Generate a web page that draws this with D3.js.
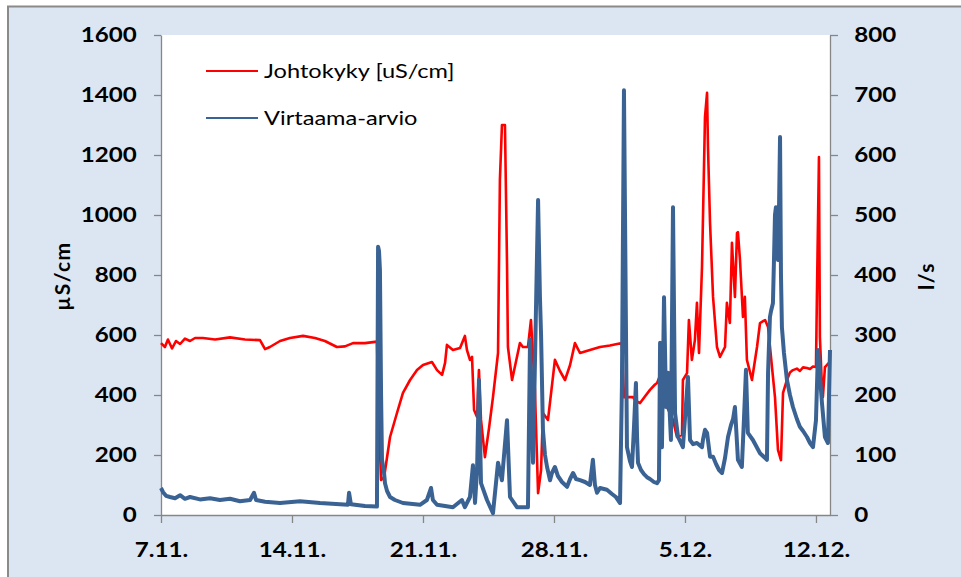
<!DOCTYPE html>
<html>
<head>
<meta charset="utf-8">
<script src="https://cdn.jsdelivr.net/npm/d3@7"></script>
<style>
  body { margin: 0; background: #fff; }
  svg text { font-family: Lato, "Open Sans", sans-serif; fill: #000; }
</style>
</head>
<body>
<svg id="chart" width="961" height="577"></svg>
<script>
// series: [days since 7.11., value]
const conductivity = [
  [0, 573], [0.21, 560], [0.37, 585], [0.59, 555], [0.80, 580], [1.02, 570], [1.28, 588], [1.55, 580],
  [1.82, 590], [2.24, 590], [2.89, 585], [3.69, 592], [4.49, 585], [5.29, 583], [5.56, 553], [5.82, 560],
  [6.36, 580], [6.89, 590], [7.59, 597], [8.23, 590], [8.76, 580], [9.40, 560], [9.83, 562], [10.26, 573],
  [10.90, 573], [11.54, 578], [11.65, 300], [11.76, 117], [11.92, 125], [12.24, 260], [12.61, 340],
  [12.93, 407], [13.31, 450], [13.68, 483], [14.00, 500], [14.48, 510], [14.75, 483], [15.02, 467],
  [15.18, 507], [15.28, 567], [15.60, 550], [15.98, 557], [16.24, 597], [16.35, 550], [16.51, 517],
  [16.62, 527], [16.73, 350], [16.89, 327], [16.99, 483], [17.10, 317], [17.31, 193], [17.53, 290],
  [17.74, 393], [18.01, 540], [18.11, 1117], [18.22, 1300], [18.38, 1300], [18.49, 840], [18.54, 560],
  [18.76, 450], [19.18, 573], [19.34, 560], [19.61, 560], [19.77, 650], [19.98, 417], [20.15, 73],
  [20.31, 150], [20.41, 340], [20.68, 317], [21.05, 517], [21.32, 480], [21.59, 450], [21.86, 500],
  [22.12, 573], [22.39, 540], [22.92, 550], [23.46, 560], [23.99, 565], [24.63, 573], [24.74, 393],
  [24.95, 393], [25.22, 393], [25.38, 380], [25.60, 373], [25.86, 395], [26.13, 417], [26.40, 435],
  [26.51, 440], [26.72, 473], [26.83, 477], [27.04, 360],
  [27.36, 317], [27.57, 260], [27.84, 267], [27.89, 450], [28.11, 473], [28.21, 650], [28.37, 517],
  [28.53, 583], [28.64, 707], [28.75, 540], [28.91, 827], [29.07, 1327], [29.18, 1407], [29.23, 1227],
  [29.34, 973], [29.50, 727], [29.71, 560], [29.87, 527], [30.14, 560], [30.24, 707], [30.40, 640],
  [30.51, 907], [30.67, 727], [30.78, 940], [30.83, 943], [30.94, 850], [31.10, 660], [31.20, 727],
  [31.31, 517], [31.58, 450], [31.85, 560], [32.01, 640], [32.28, 650], [32.44, 627], [32.65, 493],
  [32.81, 393], [32.97, 217], [33.13, 183], [33.24, 407], [33.45, 450], [33.61, 475], [33.77, 483],
  [33.98, 488], [34.14, 480], [34.31, 492], [34.52, 490], [34.68, 487], [34.84, 495],
  [35.00, 493], [35.05, 727], [35.16, 1193], [35.21, 593], [35.32, 427], [35.37, 393], [35.48, 493],
  [35.69, 507]
];

const flow = [
  [0, 45], [0.11, 38], [0.27, 32], [0.48, 30], [0.75, 28], [1.02, 33], [1.28, 27], [1.55, 30],
  [2.08, 26], [2.62, 28], [3.15, 25], [3.69, 27], [4.22, 23], [4.76, 25], [4.97, 37], [5.08, 25],
  [5.56, 22], [6.36, 20], [7.43, 23], [8.50, 20], [9.56, 18], [9.99, 17], [10.05, 37], [10.15, 18],
  [10.90, 15], [11.54, 14], [11.60, 447], [11.65, 440], [11.70, 408], [11.76, 200], [11.81, 92],
  [11.92, 70], [11.97, 53], [12.08, 40], [12.24, 30], [12.50, 25], [12.93, 20], [13.84, 17],
  [14.21, 25], [14.43, 45], [14.53, 25], [14.75, 17],
  [15.60, 13], [16.08, 25], [16.24, 13], [16.51, 30], [16.67, 83], [16.78, 20], [16.89, 75],
  [16.99, 225], [17.10, 53], [17.42, 25], [17.74, 3], [18.01, 87], [18.22, 58], [18.49, 158],
  [18.65, 30], [19.02, 13], [19.61, 13], [19.72, 292], [19.88, 87], [20.15, 525], [20.25, 363],
  [20.31, 300], [20.41, 142], [20.52, 100], [20.63, 80], [20.79, 58], [20.89, 70], [21.05, 80],
  [21.21, 65], [21.43, 55], [21.70, 47], [21.86, 60], [22.02, 70], [22.18, 60], [22.39, 58],
  [22.66, 55], [22.92, 50], [23.08, 92], [23.19, 50], [23.30, 37], [23.46, 45], [23.83, 42],
  [24.10, 35], [24.31, 30], [24.53, 20], [24.63, 213], [24.74, 708], [24.90, 113], [25.06, 90],
  [25.17, 80], [25.28, 150], [25.38, 220], [25.44, 130], [25.49, 87], [25.65, 75], [25.81, 68],
  [25.97, 63], [26.13, 60], [26.34, 55], [26.51, 53], [26.61, 58], [26.67, 287], [26.77, 113],
  [26.88, 363], [26.99, 180], [27.09, 237], [27.25, 125], [27.36, 513], [27.47, 170], [27.63, 130],
  [27.89, 113], [28.16, 230], [28.27, 125], [28.43, 118], [28.64, 120], [28.91, 113], [28.96, 125],
  [29.07, 142], [29.18, 137], [29.34, 97], [29.50, 97], [29.66, 85], [29.82, 75], [29.98, 70],
  [30.14, 95], [30.30, 130], [30.46, 150], [30.57, 160], [30.67, 180], [30.78, 120], [30.83, 92],
  [31.04, 80], [31.15, 158], [31.26, 242], [31.36, 137],
  [31.63, 125], [32.01, 103], [32.38, 92], [32.44, 237], [32.54, 330], [32.60, 340], [32.70, 353],
  [32.76, 430], [32.81, 500], [32.86, 513], [32.92, 480], [32.97, 425], [33.02, 500], [33.08, 630],
  [33.13, 400], [33.18, 313], [33.29, 270], [33.45, 225], [33.61, 200], [33.77, 180], [33.98, 160],
  [34.14, 147], [34.31, 140], [34.52, 130], [34.68, 120], [34.84, 113], [35.00, 158], [35.11, 275],
  [35.32, 187], [35.48, 130], [35.64, 120], [35.75, 275]
];

const leftTicks = [0, 200, 400, 600, 800, 1000, 1200, 1400, 1600];
const rightTicks = [0, 100, 200, 300, 400, 500, 600, 700, 800];
const dateTickDays = [0, 7, 14, 21, 28, 35];
const seriesNames = ['Johtokyky [uS/cm]', 'Virtaama-arvio'];

const startDate = new Date(2010, 10, 7);
const dayMs = 864e5;
const toDate = (d) => new Date(startDate.getTime() + d * dayMs);

const margin = { left: 161, right: 830, top: 35, bottom: 515 };
const axisColor = '#868686';
const red = '#ff0000';
const blue = '#3a6394';

const svg = d3.select('#chart');

svg.append('rect')
  .attr('x', 8).attr('y', 6.5)
  .attr('width', 960).attr('height', 580)
  .style('fill', '#dce6f2')
  .style('stroke', '#8a8a8a')
  .style('stroke-width', 2);

svg.append('rect')
  .attr('x', margin.left).attr('y', margin.top)
  .attr('width', margin.right - margin.left)
  .attr('height', margin.bottom - margin.top)
  .style('fill', '#fff');

const x = d3.scaleTime()
  .domain([startDate, toDate(35.75)])
  .range([margin.left, margin.right]);
const yLeft = d3.scaleLinear().domain([0, 1600]).range([margin.bottom, margin.top]);
const yRight = d3.scaleLinear().domain([0, 800]).range([margin.bottom, margin.top]);

const styleAxis = (g) => {
  g.select('.domain').style('stroke', axisColor).style('stroke-width', 1.3);
  g.selectAll('.tick line').style('stroke', axisColor).style('stroke-width', 1.3);
  g.selectAll('.tick text')
    .attr('transform', 'scale(1.15,1)')
    .style('font-size', '21px')
    .style('font-weight', '700')
    .style('fill', '#000');
};

svg.append('g')
  .attr('transform', `translate(${margin.left},0)`)
  .call(d3.axisLeft(yLeft).tickValues(leftTicks).tickFormat(d3.format('d'))
    .tickSize(7).tickSizeOuter(0).tickPadding(14))
  .call(styleAxis);

svg.append('g')
  .attr('transform', `translate(${margin.right},0)`)
  .call(d3.axisRight(yRight).tickValues(rightTicks).tickFormat(d3.format('d'))
    .tickSize(8).tickSizeOuter(0).tickPadding(13))
  .call(styleAxis);

svg.append('g')
  .attr('transform', `translate(0,${margin.bottom})`)
  .call(d3.axisBottom(x)
    .tickValues(dateTickDays.map(toDate))
    .tickFormat(d3.timeFormat('%-d.%-m.'))
    .tickSize(8).tickSizeOuter(0).tickPadding(19))
  .call(styleAxis);

// axis titles
svg.append('text')
  .attr('transform', 'translate(70,276) rotate(-90)')
  .attr('text-anchor', 'middle')
  .style('font-size', '21px')
  .style('font-weight', '700')
  .style('letter-spacing', '1.5px')
  .text('µS/cm');

svg.append('text')
  .attr('transform', 'translate(934,276) rotate(-90)')
  .attr('text-anchor', 'middle')
  .style('font-size', '21px')
  .style('font-weight', '700')
  .style('letter-spacing', '1.5px')
  .text('l/s');

// lines
const condLine = d3.line()
  .x((d) => x(toDate(d[0])))
  .y((d) => yLeft(d[1]));
const flowLine = d3.line()
  .x((d) => x(toDate(d[0])))
  .y((d) => yRight(d[1]));

svg.append('path')
  .datum(conductivity)
  .attr('d', condLine)
  .style('fill', 'none')
  .style('stroke', red)
  .style('stroke-width', 2.6)
  .style('stroke-linejoin', 'round');

svg.append('path')
  .datum(flow)
  .attr('d', flowLine)
  .style('fill', 'none')
  .style('stroke', blue)
  .style('stroke-width', 4)
  .style('stroke-linejoin', 'round');

// legend
const legend = svg.append('g');
const legendRows = [
  { name: seriesNames[0], color: red, y: 71 },
  { name: seriesNames[1], color: blue, y: 118 }
];
legendRows.forEach((row) => {
  legend.append('line')
    .attr('x1', 206).attr('x2', 258)
    .attr('y1', row.y).attr('y2', row.y)
    .style('stroke', row.color)
    .style('stroke-width', 2.2);
  legend.append('text')
    .attr('transform', `translate(264,${row.y + 7}) scale(1.18,1)`)
    .style('font-size', '20px')
    .text(row.name);
});
</script>
</body>
</html>
